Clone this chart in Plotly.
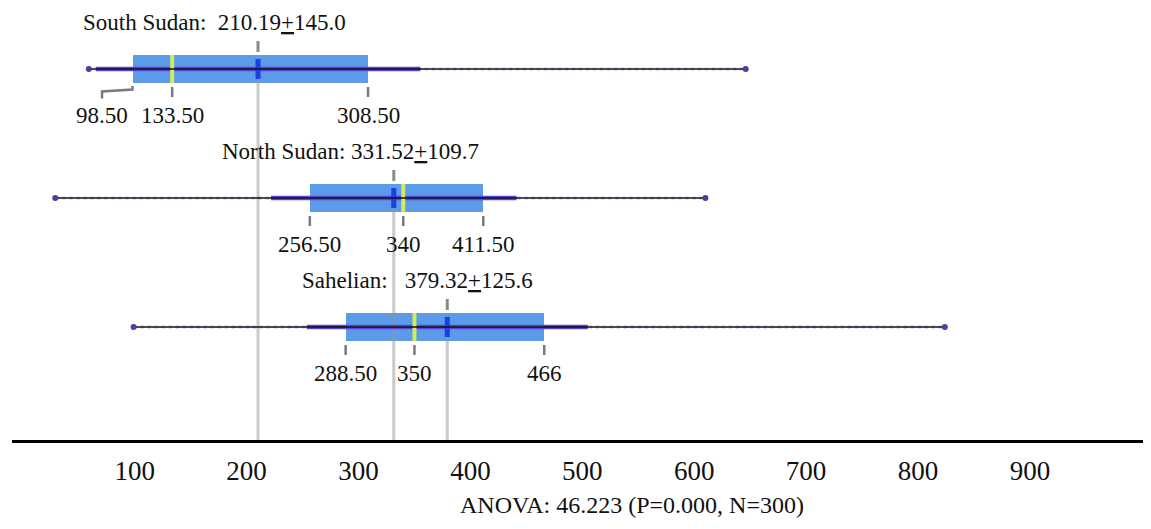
import plotly.graph_objects as go

# ---------------- data ----------------
groups = ["South Sudan", "North Sudan", "Sahelian"]
means = [210.19, 331.52, 379.32]
sds = [145.0, 109.7, 125.6]
q1 = [98.50, 256.50, 288.50]
medians = [133.50, 340, 350]
q3 = [308.50, 411.50, 466]
mins = [59, 29, 99]
maxs = [646, 610, 824]
tick_vals = [100, 200, 300, 400, 500, 600, 700, 800, 900]
anova_text = "ANOVA: 46.223 (P=0.000, N=300)"

# ---------------- styling / layout constants ----------------
# page has an 8px body margin, so the figure is shrunk and shifted accordingly
OFF = 8
W, H = 1151 - OFF, 529 - OFF
AX_LEFT_PAGE, AX_RIGHT_PAGE, AX_Y_PAGE = 12, 1150, 440
ML = AX_LEFT_PAGE - OFF
MR = W - (AX_RIGHT_PAGE - OFF)
MT = 0
MB = H - (AX_Y_PAGE - OFF)
PLOT_H = H - MT - MB
X_RANGE = [-9.65, 1007.3]
ROW_PX = 129.0
ROW0_PAGE = 69  # centre of first row (page px)
y_top = (OFF - ROW0_PAGE) / ROW_PX
y_bottom = (AX_Y_PAGE - ROW0_PAGE) / ROW_PX
Y_RANGE = [y_bottom, y_top]
ypos = list(range(len(groups)))
PX_PER_X = (W - ML - MR) / (X_RANGE[1] - X_RANGE[0])

FONT = "Liberation Serif, Times New Roman, serif"
BOX_COLOR = "#5b9be9"
q1_label_shift_px = [-31, 0, 0]
title_sep = ["\u00a0\u00a0", "\u00a0", "\u00a0\u00a0\u00a0"]
title_left_page_px = [81, 220, 300]


def dy(px):
    return px / ROW_PX


def fmt(v):
    return f"{v:g}" if float(v).is_integer() else f"{v:.2f}"


def segs(xpairs, ypairs):
    xs, ys = [], []
    for (xa, xb), (ya, yb) in zip(xpairs, ypairs):
        xs += [xa, xb, None]
        ys += [ya, yb, None]
    return xs, ys


fig = go.Figure()

# boxes (Q1..Q3)
fig.add_trace(go.Bar(
    orientation="h", y=ypos, x=[b - a for a, b in zip(q1, q3)], base=q1,
    width=dy(28), marker=dict(color=BOX_COLOR, line=dict(width=0)),
    showlegend=False, hoverinfo="skip"))

# long light-grey reference lines at the means, down to the axis
xs, ys = segs([(m, m) for m in means], [(i, y_bottom) for i in ypos])
fig.add_trace(go.Scatter(x=xs, y=ys, mode="lines",
                         line=dict(color="rgba(150,150,150,0.5)", width=3),
                         showlegend=False, hoverinfo="skip"))

# dark grey tick above box at mean
xs, ys = segs([(m, m) for m in means], [(i - dy(28), i - dy(17)) for i in ypos])
fig.add_trace(go.Scatter(x=xs, y=ys, mode="lines",
                         line=dict(color="#8a8a8a", width=3),
                         showlegend=False, hoverinfo="skip"))

# ticks below box at Q1 / median / Q3 (bracket where the label is shifted)
tx, ty = [], []
for i in ypos:
    for v, shift in ((q1[i], q1_label_shift_px[i]), (medians[i], 0), (q3[i], 0)):
        if shift == 0:
            tx += [v, v, None]
            ty += [i + dy(18), i + dy(28), None]
        else:
            xl = v + shift / PX_PER_X
            tx += [xl, xl, v - 0.5, v - 0.5, None]
            ty += [i + dy(29.5), i + dy(22.5), i + dy(20.5), i + dy(17), None]
fig.add_trace(go.Scatter(x=tx, y=ty, mode="lines",
                         line=dict(color="#7a7a7a", width=2.5),
                         showlegend=False, hoverinfo="skip"))

# dotted full-range whisker (light purple)
xs, ys = segs([(a, b) for a, b in zip(mins, maxs)], [(i, i) for i in ypos])
fig.add_trace(go.Scatter(x=xs, y=ys, mode="lines",
                         line=dict(color="rgba(120,110,230,0.3)", width=3.5, dash="dot"),
                         showlegend=False, hoverinfo="skip"))

# mean +/- SD thick band
xs, ys = segs([(m - s, m + s) for m, s in zip(means, sds)], [(i, i) for i in ypos])
fig.add_trace(go.Scatter(x=xs, y=ys, mode="lines",
                         line=dict(color="#5546de", width=4.5),
                         showlegend=False, hoverinfo="skip"))

# median markers (yellow-green)
xs, ys = segs([(m, m) for m in medians], [(i - dy(14), i + dy(14)) for i in ypos])
fig.add_trace(go.Scatter(x=xs, y=ys, mode="lines",
                         line=dict(color="#d2ec5a", width=4),
                         showlegend=False, hoverinfo="skip"))

# mean markers (dark blue)
xs, ys = segs([(m, m) for m in means], [(i - dy(10), i + dy(10)) for i in ypos])
fig.add_trace(go.Scatter(x=xs, y=ys, mode="lines",
                         line=dict(color="#1f3ee6", width=5),
                         showlegend=False, hoverinfo="skip"))

# thin black whisker min..max
xs, ys = segs([(a, b) for a, b in zip(mins, maxs)], [(i, i) for i in ypos])
fig.add_trace(go.Scatter(x=xs, y=ys, mode="lines",
                         line=dict(color="#111111", width=1.3),
                         showlegend=False, hoverinfo="skip"))

# end dots
fig.add_trace(go.Scatter(x=mins + maxs, y=ypos + ypos, mode="markers",
                         marker=dict(color="#4b409e", size=6),
                         showlegend=False, hoverinfo="skip"))

# annotations
ann = []
for i in ypos:
    title = f"{groups[i]}:{title_sep[i]}{means[i]:.2f}<u>+</u>{sds[i]:.1f}"
    ann.append(dict(x=X_RANGE[0] + (title_left_page_px[i] - AX_LEFT_PAGE) / PX_PER_X,
                    y=i - dy(47), xref="x", yref="y", text=title, showarrow=False,
                    xanchor="left", yanchor="middle",
                    font=dict(family=FONT, size=23, color="#111111")))
    for v, shift in ((q1[i], q1_label_shift_px[i]), (medians[i], 0), (q3[i], 0)):
        ann.append(dict(x=v, y=i + dy(46), xref="x", yref="y", text=fmt(v),
                        showarrow=False, xanchor="center", yanchor="middle",
                        xshift=shift,
                        font=dict(family=FONT, size=23, color="#111111")))
ann.append(dict(x=(631.5 - AX_LEFT_PAGE) / (AX_RIGHT_PAGE - AX_LEFT_PAGE),
                y=-(505 - AX_Y_PAGE) / PLOT_H,
                xref="paper", yref="paper", text=anova_text, showarrow=False,
                xanchor="center", yanchor="middle",
                font=dict(family=FONT, size=24, color="#111111")))

fig.update_layout(
    width=W, height=H,
    margin=dict(l=ML, r=MR, t=MT, b=MB, pad=0),
    paper_bgcolor="white", plot_bgcolor="white",
    bargap=0, showlegend=False,
    annotations=ann,
    xaxis=dict(range=X_RANGE, tickvals=tick_vals, ticktext=[str(t) for t in tick_vals],
               showgrid=False, zeroline=False, showline=True, linecolor="black",
               linewidth=3, ticks="", ticklabelstandoff=5,
               tickfont=dict(family=FONT, size=27, color="#111111")),
    yaxis=dict(range=Y_RANGE, showgrid=False, zeroline=False, showline=False,
               showticklabels=False, ticks=""),
)

fig.write_html("out.html")
